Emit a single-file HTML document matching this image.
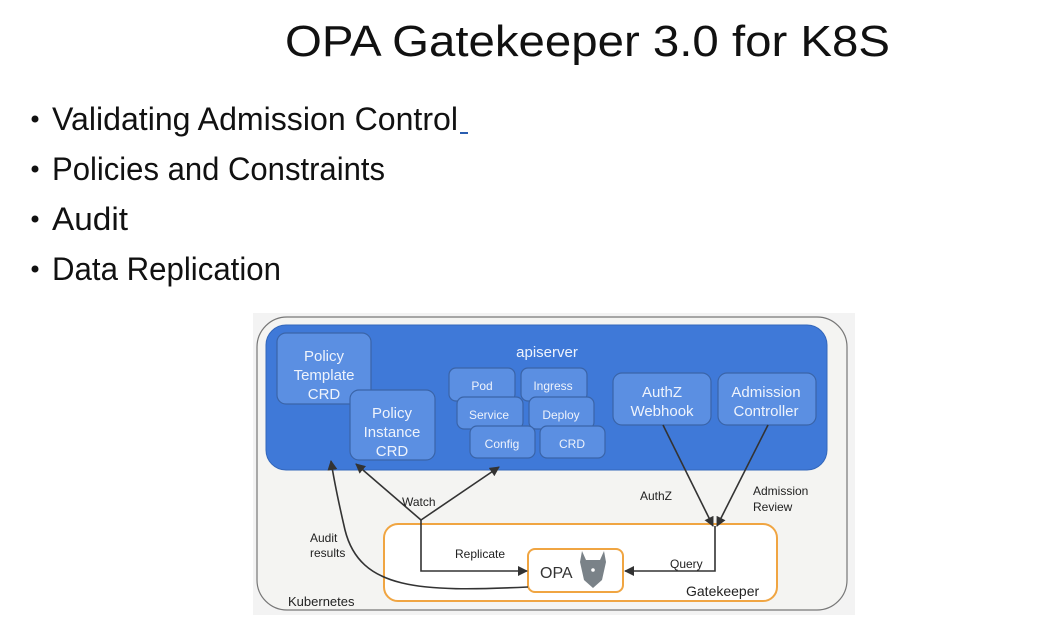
<!DOCTYPE html>
<html><head><meta charset="utf-8"><style>html,body{margin:0;padding:0;background:#fff;}svg{display:block}</style></head>
<body>
<svg width="1051" height="637" viewBox="0 0 1051 637" xmlns="http://www.w3.org/2000/svg" font-family="Liberation Sans, sans-serif">
<defs>
<marker id="ah" markerWidth="10" markerHeight="10" refX="9" refY="5" orient="auto" markerUnits="userSpaceOnUse"><path d="M0,0 L10,5 L0,10 z" fill="#333"/></marker>
</defs>
<text x="285" y="56" font-size="44" textLength="605" lengthAdjust="spacingAndGlyphs" fill="#111">OPA Gatekeeper 3.0 for K8S</text>
<g font-size="32" fill="#111">
<circle cx="35" cy="119" r="3.5"/><text x="52" y="130" textLength="406" lengthAdjust="spacingAndGlyphs">Validating Admission Control</text>
<circle cx="35" cy="169" r="3.5"/><text x="52" y="180" textLength="333" lengthAdjust="spacingAndGlyphs">Policies and Constraints</text>
<circle cx="35" cy="219" r="3.5"/><text x="52" y="230" textLength="76" lengthAdjust="spacingAndGlyphs">Audit</text>
<circle cx="35" cy="269" r="3.5"/><text x="52" y="280" textLength="229" lengthAdjust="spacingAndGlyphs">Data Replication</text>
</g>
<rect x="460" y="132" width="8" height="2" fill="#2a5db0"/>
<!-- diagram -->
<rect x="253" y="313" width="602" height="302" fill="#f3f3f3"/>
<rect x="257" y="317" width="590" height="293" rx="30" fill="#f4f4f2" stroke="#777" stroke-width="1.2"/>
<rect x="266" y="325" width="561" height="145" rx="20" fill="#3f79d8" stroke="#3367bb"/>
<g fill="#5b8fe2" stroke="#3a64a8" stroke-width="1.2">
<rect x="277" y="333" width="94" height="71" rx="9"/>
<rect x="350" y="390" width="85" height="70" rx="9"/>
<rect x="449" y="368" width="66" height="33" rx="7"/>
<rect x="521" y="368" width="66" height="33" rx="7"/>
<rect x="457" y="397" width="66" height="32" rx="7"/>
<rect x="529" y="397" width="65" height="32" rx="7"/>
<rect x="470" y="426" width="65" height="32" rx="7"/>
<rect x="540" y="426" width="65" height="32" rx="7"/>
<rect x="613" y="373" width="98" height="52" rx="9"/>
<rect x="718" y="373" width="98" height="52" rx="9"/>
</g>
<g fill="#eef3fc" font-size="15" text-anchor="middle">
<text x="547" y="357">apiserver</text>
<text x="324" y="361">Policy</text><text x="324" y="380">Template</text><text x="324" y="399">CRD</text>
<text x="392" y="418">Policy</text><text x="392" y="437">Instance</text><text x="392" y="456">CRD</text>
<text x="482" y="390" font-size="12">Pod</text>
<text x="553" y="390" font-size="12">Ingress</text>
<text x="489" y="419" font-size="12">Service</text>
<text x="561" y="419" font-size="12">Deploy</text>
<text x="502" y="448" font-size="12">Config</text>
<text x="572" y="448" font-size="12">CRD</text>
<text x="662" y="397">AuthZ</text><text x="662" y="416">Webhook</text>
<text x="766" y="397">Admission</text><text x="766" y="416">Controller</text>
</g>
<rect x="384" y="524" width="393" height="77" rx="14" fill="#fff" stroke="#f0a542" stroke-width="2"/>
<rect x="528" y="549" width="95" height="43" rx="7" fill="#fff" stroke="#f0a542" stroke-width="2"/>
<text x="540" y="578" font-size="16" fill="#333">OPA</text>
<path d="M582,551 L586,560 L600,560 L604,551 L606,562 L602,580 L593,588 L584,580 L580,562 z" fill="#7a8288"/>
<circle cx="593" cy="570" r="1.8" fill="#fff"/>
<g stroke="#333" stroke-width="1.6" fill="none">
<path d="M421,520 L356,464" marker-end="url(#ah)"/>
<path d="M421,520 L499,467" marker-end="url(#ah)"/>
<path d="M421,520 L421,571 L527,571" marker-end="url(#ah)"/>
<path d="M528,587 C420,592 360,590 345,530 C338,500 334,480 331,461" marker-end="url(#ah)"/>
<path d="M663,425 L713,526" marker-end="url(#ah)"/>
<path d="M768,425 L717,526" marker-end="url(#ah)"/>
<path d="M715,526 L715,571 L625,571" marker-end="url(#ah)"/>
</g>
<g font-size="12" fill="#222">
<text x="402" y="506">Watch</text>
<text x="640" y="500">AuthZ</text>
<text x="753" y="495">Admission</text><text x="753" y="511">Review</text>
<text x="310" y="542">Audit</text><text x="310" y="557">results</text>
<text x="455" y="558">Replicate</text>
<text x="670" y="568">Query</text>
<text x="686" y="596" font-size="14">Gatekeeper</text>
<text x="288" y="606" font-size="13">Kubernetes</text>
</g>
</svg>
</body></html>
